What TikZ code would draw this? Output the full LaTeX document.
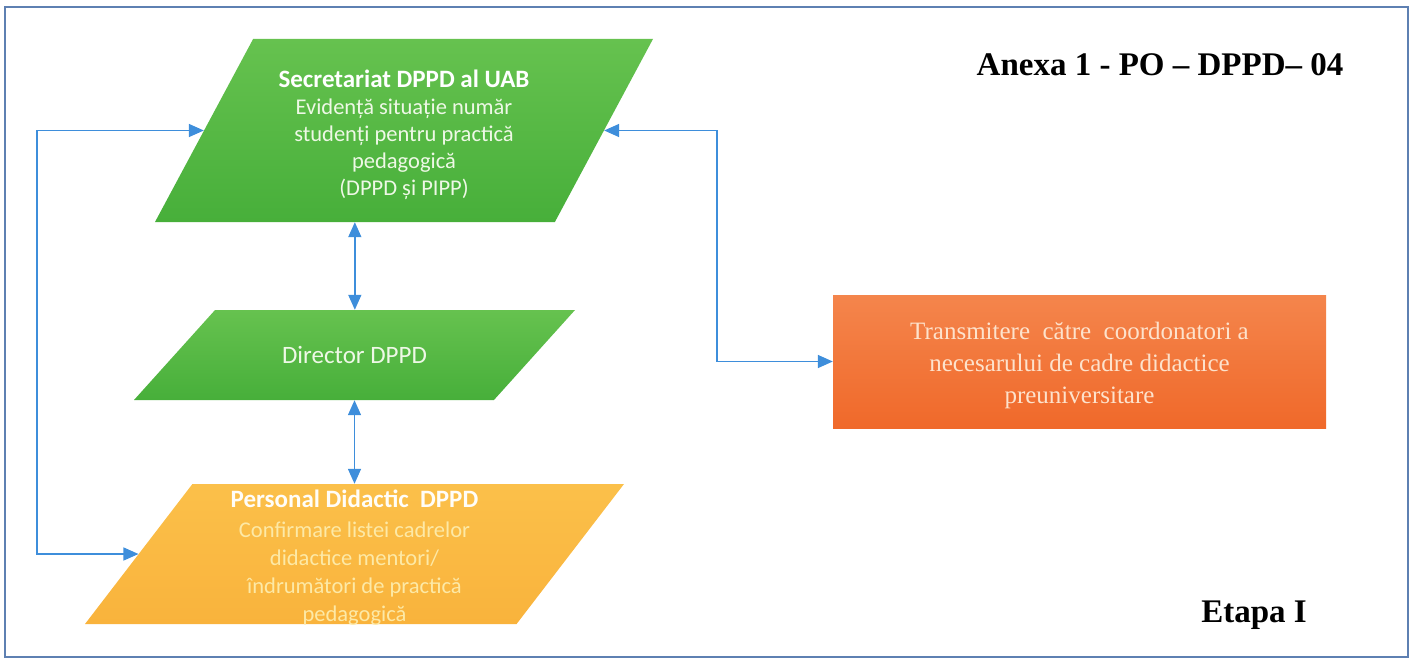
\documentclass[tikz,border=0pt]{standalone}
\usepackage{fontspec}
\setmainfont{Liberation Serif}
\newfontfamily\calibri{Carlito}
\usetikzlibrary{arrows.meta,shapes.geometric,positioning}

\definecolor{greentop}{HTML}{66C24F}
\definecolor{greenbot}{HTML}{47AF3A}
\definecolor{ambertop}{HTML}{FBC04A}
\definecolor{amberbot}{HTML}{F9B33C}
\definecolor{orangetop}{HTML}{F4854C}
\definecolor{orangebot}{HTML}{F0692A}
\definecolor{linkblue}{HTML}{3E8EDB}
\definecolor{framecol}{HTML}{5E80B2}
\definecolor{greentext}{HTML}{EEF8E6}
\definecolor{ambertext}{HTML}{FDE9A6}
\definecolor{orangetext}{HTML}{FDE2CC}

\begin{document}
\begin{tikzpicture}[x=1pt,y=-1pt,>={Triangle[length=15pt,width=13pt]}]
  \tikzstyle{para}=[trapezium,trapezium stretches body,inner xsep=0pt]
  \tikzstyle{paratext}=[inner sep=0pt,align=center,font=\calibri\fontsize{22.5}{27}\selectfont]
  \tikzstyle{link}=[draw=linkblue,line width=1.5pt,<->]
  \useasboundingbox (0,0) rectangle (1416,661);
  \draw[framecol,line width=2pt] (5,7) rectangle (1408,657);

  % Steps
  \node[para,top color=greentop,bottom color=greenbot,
    trapezium left angle=61.8,trapezium right angle=118.2,
    minimum width=498pt,inner ysep=91.5pt] (sec) at (404,130.5) {};
  \node[paratext,text=greentext,yshift=-4pt] (sectext) at (sec)
    {{\bfseries\color{white}\fontsize{25}{27}\selectfont Secretariat DPPD al UAB}\\ Evidență situație număr\\
     studenți pentru practică\\ pedagogică\\ (DPPD și PIPP)};
  \node[para,top color=greentop,bottom color=greenbot,
    trapezium left angle=48,trapezium right angle=132,
    minimum width=441pt,inner ysep=45pt] (dir) at (354.5,355) {};
  \node[paratext,text=greentext,font=\calibri\fontsize{25}{28}\selectfont] (dirtext) at (dir)
    {Director DPPD};
  \node[para,top color=ambertop,bottom color=amberbot,
    trapezium left angle=52.5,trapezium right angle=127.5,
    minimum width=539pt,inner ysep=70pt] (pers) at (354.5,554) {};
  \node[paratext,text=ambertext,font=\calibri\fontsize{22.5}{28}\selectfont,yshift=-4pt] (perstext) at (pers)
    {{\bfseries\color{white!92!ambertext}\fontsize{25}{28}\selectfont Personal Didactic\ \ DPPD}\\[2pt]
     Confirmare listei cadrelor\\ didactice mentori/\\ îndrumători de practică\\ pedagogică};
  \node[rectangle,top color=orangetop,bottom color=orangebot,text=orangetext,
    minimum width=493pt,minimum height=133pt,inner sep=0pt,align=center,
    font=\fontsize{25}{32}\selectfont] (coord) at (1079.5,361.5) {};
  \node[inner sep=0pt,align=center,text=orangetext,font=\fontsize{25}{32}\selectfont,
    yshift=-3.5pt] (coordtext) at (coord)
    {Transmitere\ \ către\ \ coordonatori a\\ necesarului de cadre didactice\\ preuniversitare};

  % Titles
  \node[anchor=base,font=\bfseries\fontsize{33}{36}\selectfont] (anexa) at (1160,75)
    {Anexa 1 - PO -- DPPD-- 04};
  \node[anchor=base,font=\bfseries\fontsize{33}{36}\selectfont] (etapa) at (1254,622) {Etapa I};

  % Links
  \draw[link] (sec.left side) -- ++(-167,0) |- (pers.left side);
  \draw[link] (sec.right side) -- ++(113,0) |- (coord.west);
  \draw[link] (sec.bottom side) -- (sec.bottom side |- dir.north);
  \draw[link] (dir.south) -- (pers.north);
\end{tikzpicture}
\end{document}
